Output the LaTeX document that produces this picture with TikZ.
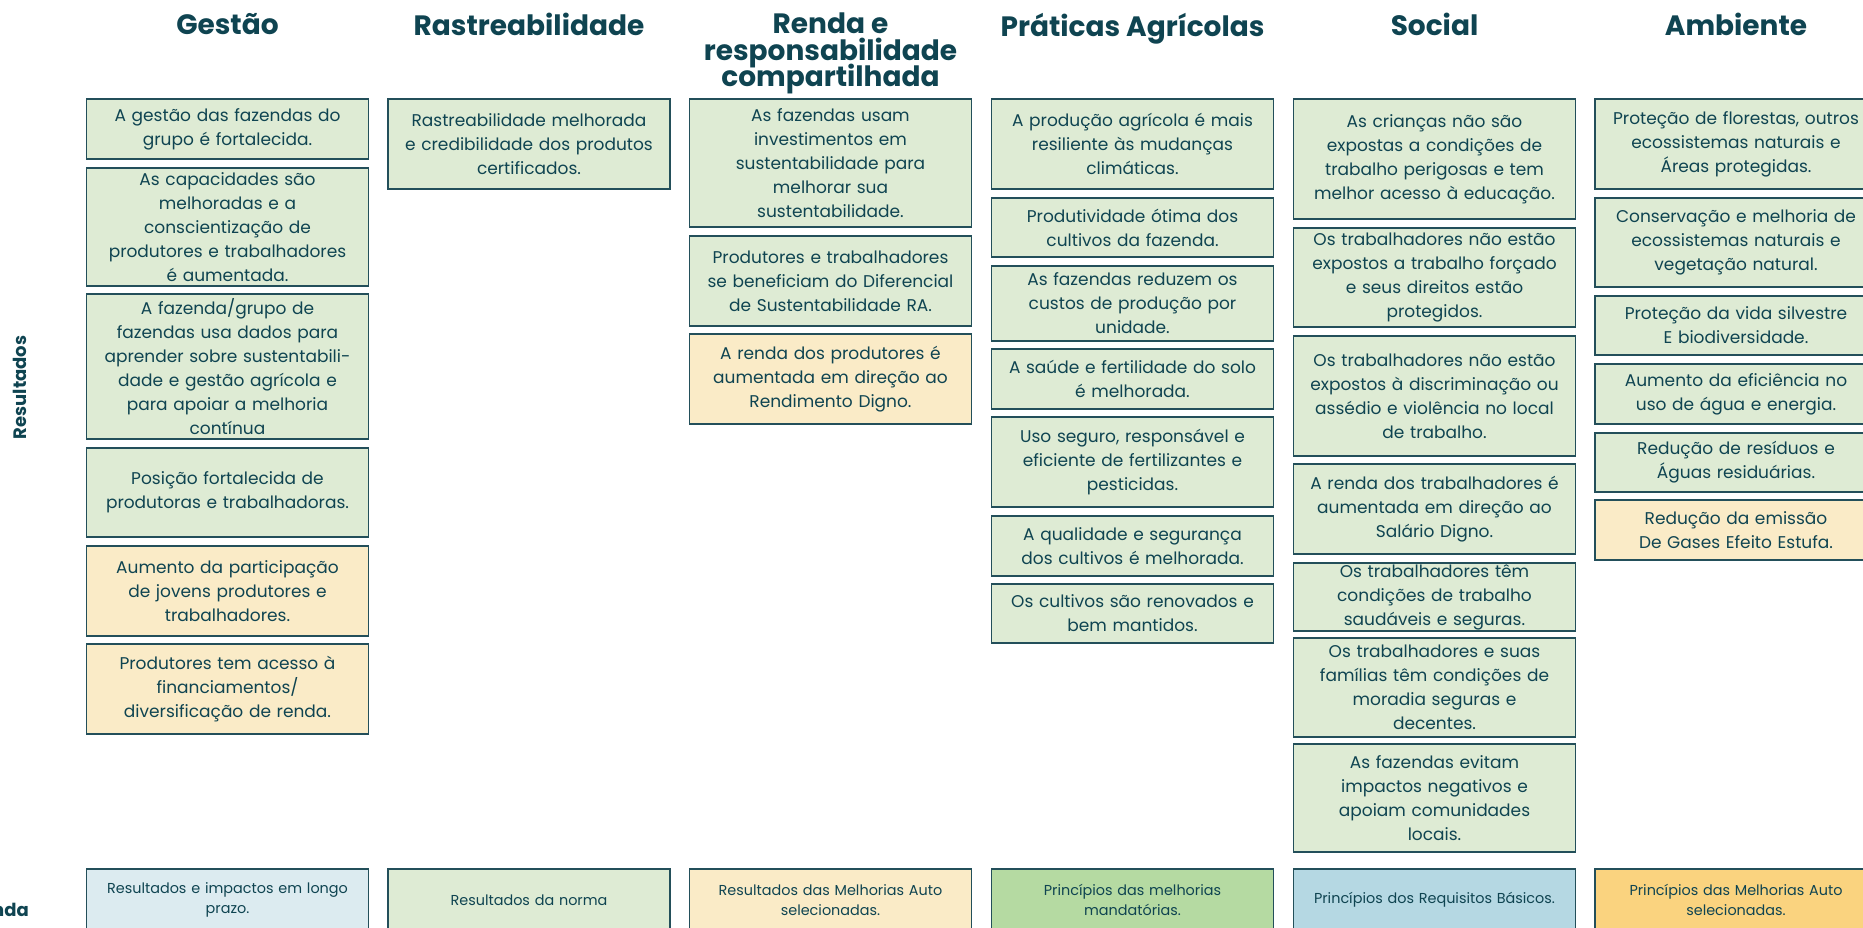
\documentclass[tikz,border=0pt]{standalone}
\usepackage{fontspec}
\setmainfont{Poppins}
\usepackage{xcolor}
\usepackage{tikz}
\definecolor{ink}{HTML}{0F4451}
\definecolor{edge}{HTML}{234F5A}
\definecolor{lgreen}{HTML}{DEEBD4}
\definecolor{lyellow}{HTML}{FAEBC7}
\definecolor{lblue}{HTML}{DCEBF0}
\definecolor{mgreen}{HTML}{B5DAA2}
\definecolor{mblue}{HTML}{B5D8E3}
\definecolor{morange}{HTML}{FAD37F}
\newcommand\tightlines{\lineskiplimit=-20pt\relax}

\begin{document}
\begin{tikzpicture}[x=1pt,y=-1pt,
    every node/.style={text=ink},
    res/.style={draw=edge,line width=1.6pt,fill=lgreen,minimum width=282pt,text width=272pt,inner xsep=5pt,inner ysep=0pt,align=center,font=\fontsize{17}{24}\selectfont,minimum height=#1pt},
    selfres/.style={res=#1,fill=lyellow},
    key/.style={draw=edge,line width=1.6pt,minimum width=282pt,minimum height=62pt,text width=272pt,inner xsep=5pt,align=center,font=\fontsize{14.4}{20}\selectfont},
    head/.style={anchor=north,inner sep=0pt,align=center,font=\bfseries\fontsize{28}{26.5}\selectfont\tightlines},
    side/.style={inner sep=0pt,font=\bfseries\fontsize{18}{20}\selectfont}]
                \useasboundingbox (0,0) rectangle (1863,927);

                \node[head] (hges) at (227.5,13) {Gestão};
                \node[head] (hras) at (529,13) {Rastreabilidade};
                \node[head] (hren) at (830.5,13) {Renda e\\responsabilidade\\compartilhada};
                \node[head] (hpra) at (1132.5,13) {Práticas Agrícolas};
                \node[head] (hsoc) at (1434.5,13) {Social};
                \node[head] (hamb) at (1736,13) {Ambiente};

                \node[side,rotate=90] (lres) at (19.5,387.5) {Resultados};
                \node[side,anchor=east] (lleg) at (29,912) {Legenda};

                \node[res=60] (g1) at (227.5,129) {A gestão das fazendas do\\grupo é fortalecida.};
                \node[res=118] (g2) at (227.5,227) {As capacidades são\\melhoradas e a\\conscientização de\\produtores e trabalhadores\\é aumentada.};
                \node[res=145] (g3) at (227.5,366.5) {A fazenda/grupo de\\fazendas usa dados para\\aprender sobre sustentabili-\\dade e gestão agrícola e\\para apoiar a melhoria\\contínua};
                \node[res=89] (g4) at (227.5,492.5) {Posição fortalecida de\\produtoras e trabalhadoras.};
                \node[selfres=90] (g5) at (227.5,591) {Aumento da participação\\de jovens produtores e\\trabalhadores.};
                \node[selfres=90] (g6) at (227.5,689) {Produtores tem acesso à\\financiamentos/\\diversificação de renda.};

                \node[res=90] (r1) at (529,144) {Rastreabilidade melhorada\\e credibilidade dos produtos\\certificados.};

                \node[res=128] (s1) at (830.5,163) {As fazendas usam\\investimentos em\\sustentabilidade para\\melhorar sua\\sustentabilidade.};
                \node[res=90] (s2) at (830.5,281) {Produtores e trabalhadores\\se beneficiam do Diferencial\\de Sustentabilidade RA.};
                \node[selfres=90] (s3) at (830.5,379) {A renda dos produtores é\\aumentada em direção ao\\Rendimento Digno.};

                \node[res=90] (p1) at (1132.5,144) {A produção agrícola é mais\\resiliente às mudanças\\climáticas.};
                \node[res=59] (p2) at (1132.5,227.5) {Produtividade ótima dos\\cultivos da fazenda.};
                \node[res=75] (p3) at (1132.5,303.5) {As fazendas reduzem os\\custos de produção por\\unidade.};
                \node[res=60] (p4) at (1132.5,379) {A saúde e fertilidade do solo\\é melhorada.};
                \node[res=90] (p5) at (1132.5,462) {Uso seguro, responsável e\\eficiente de fertilizantes e\\pesticidas.};
                \node[res=60] (p6) at (1132.5,546) {A qualidade e segurança\\dos cultivos é melhorada.};
                \node[res=59] (p7) at (1132.5,613.5) {Os cultivos são renovados e\\bem mantidos.};

                \node[res=120] (c1) at (1434.5,159) {As crianças não são\\expostas a condições de\\trabalho perigosas e tem\\melhor acesso à educação.};
                \node[res=99] (c2) at (1434.5,277.5) {Os trabalhadores não estão\\expostos a trabalho forçado\\e seus direitos estão\\protegidos.};
                \node[res=120] (c3) at (1434.5,396) {Os trabalhadores não estão\\expostos à discriminação ou\\assédio e violência no local\\de trabalho.};
                \node[res=90] (c4) at (1434.5,509) {A renda dos trabalhadores é\\aumentada em direção ao\\Salário Digno.};
                \node[res=68] (c5) at (1434.5,597) {Os trabalhadores têm\\condições de trabalho\\saudáveis e seguras.};
                \node[res=99] (c6) at (1434.5,687.5) {Os trabalhadores e suas\\famílias têm condições de\\moradia seguras e\\decentes.};
                \node[res=108] (c7) at (1434.5,798) {As fazendas evitam\\impactos negativos e\\apoiam comunidades\\locais.};

                \node[res=90] (a1) at (1736,144) {Proteção de florestas, outros\\ecossistemas naturais e\\Áreas protegidas.};
                \node[res=89] (a2) at (1736,242.5) {Conservação e melhoria de\\ecossistemas naturais e\\vegetação natural.};
                \node[res=59] (a3) at (1736,325.5) {Proteção da vida silvestre\\E biodiversidade.};
                \node[res=60] (a4) at (1736,394) {Aumento da eficiência no\\uso de água e energia.};
                \node[res=59] (a5) at (1736,462.5) {Redução de resíduos e\\Águas residuárias.};
                \node[selfres=60] (a6) at (1736,530) {Redução da emissão\\De Gases Efeito Estufa.};

                \node[key,fill=lblue] (k1) at (227.5,900) {Resultados e impactos em longo\\prazo.};
                \node[key,fill=lgreen] (k2) at (529,900) {Resultados da norma};
                \node[key,fill=lyellow] (k3) at (830.5,900) {Resultados das Melhorias Auto\\selecionadas.};
                \node[key,fill=mgreen] (k4) at (1132.5,900) {Princípios das melhorias\\mandatórias.};
                \node[key,fill=mblue] (k5) at (1434.5,900) {Princípios dos Requisitos Básicos.};
                \node[key,fill=morange] (k6) at (1736,900) {Princípios das Melhorias Auto\\selecionadas.};
            \end{tikzpicture}
\end{document}
